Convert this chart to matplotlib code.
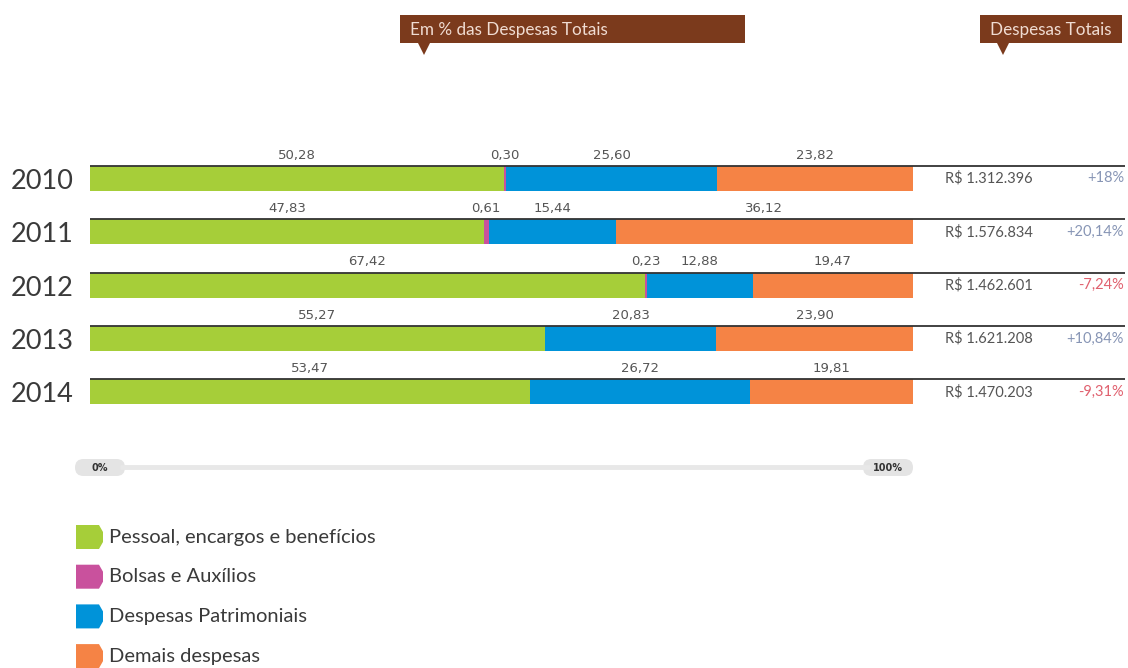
import numpy as np
import matplotlib.pyplot as plt
from matplotlib.patches import Polygon, FancyBboxPatch

plt.rcParams['font.family'] = ['Lato', 'DejaVu Sans']

years = ['2010', '2011', '2012', '2013', '2014']
pessoal = [50.28, 47.83, 67.42, 55.27, 53.47]
bolsas = [0.30, 0.61, 0.23, 0.0, 0.0]
patrimoniais = [25.60, 15.44, 12.88, 20.83, 26.72]
demais = [23.82, 36.12, 19.47, 23.90, 19.81]
totais = ['R$ 1.312.396', 'R$ 1.576.834', 'R$ 1.462.601', 'R$ 1.621.208', 'R$ 1.470.203']
variacao = ['+18%', '+20,14%', '-7,24%', '+10,84%', '-9,31%']

series = [pessoal, bolsas, patrimoniais, demais]
names = ['Pessoal, encargos e benefícios', 'Bolsas e Auxílios',
         'Despesas Patrimoniais', 'Demais despesas']
colors = ['#a6ce39', '#c9519d', '#0093d9', '#f58345']

W, H = 1128, 668
fig = plt.figure(figsize=(W / 100, H / 100), dpi=100)

# overlay in pixel coordinates for decorations
bg = fig.add_axes([0, 0, 1, 1])
bg.set_xlim(0, W)
bg.set_ylim(H, 0)
bg.axis('off')

brown = '#7b3a1c'
for x0, x1, tx, label in [(400, 745, 424, 'Em % das Despesas Totais'),
                          (980, 1122, 1003, 'Despesas Totais')]:
    bg.add_patch(plt.Rectangle((x0, 15), x1 - x0, 28, color=brown, lw=0))
    bg.add_patch(Polygon([(tx - 6, 43), (tx + 6, 43), (tx, 55)], color=brown, lw=0))
    bg.text(x0 + 10, 30, label, color='#f0dcd2', fontsize=12.3, va='center', ha='left')

# slider
bg.plot([120, 870], [467, 467], color='#e8e8e8', lw=3.5, solid_capstyle='butt')
for cx, lab in [(100, '0%'), (888, '100%')]:
    bg.add_patch(FancyBboxPatch((cx - 25, 459), 50, 17, boxstyle='round,pad=0,rounding_size=8.5',
                                color='#e4e4e4', lw=0))
    bg.text(cx, 468, lab, fontsize=7, ha='center', va='center', color='#333333',
            family='DejaVu Sans', fontweight='bold')

# legend
for i, (name, c) in enumerate(zip(names, colors)):
    yc = 537 + i * 39.7
    bg.add_patch(Polygon([(76, yc - 12), (99, yc - 12), (103, yc - 5), (103, yc + 5),
                          (99, yc + 12), (76, yc + 12)], color=c, lw=0))
    bg.text(109, yc, name, fontsize=14.5, va='center', ha='left', color='#3a3a3a')

# bars axes: 0% at x=90px, 100% at x=913px
row = 53.33
top_px = 178.5 - row
ax = fig.add_axes([90 / W, 1 - (top_px + 6 * row) / H, 823 / W, 6 * row / H])
ax.set_xlim(0, 100)
ax.set_ylim(5.0, -1.0)
ax.axis('off')

y = np.arange(len(years))
h = 0.47
left = np.zeros(len(years))
for vals, c in zip(series, colors):
    vals = np.array(vals)
    ax.barh(y, vals, left=left, height=h, color=c, lw=0)
    for i, v in enumerate(vals):
        if v > 0:
            ax.text(left[i] + v / 2, y[i] - h / 2 - 0.08, f'{v:.2f}'.replace('.', ','),
                    ha='center', va='bottom', fontsize=9.5, color='#555555',
                    family='DejaVu Sans')
    left += vals

xr = (1125 - 90) / 8.23
for i in range(len(years)):
    ax.hlines(y[i] - h / 2, 0, xr, color='#333333', lw=1.3, clip_on=False)
    ax.text(-2, y[i] + 0.2, years[i], ha='right', va='baseline', fontsize=19.5,
            color='#3a3a3a')
    ax.text((945 - 90) / 8.23, y[i], totais[i], ha='left', va='center', fontsize=10.5,
            color='#555555')
    ax.text((1124 - 90) / 8.23, y[i], variacao[i], ha='right', va='center', fontsize=10.5,
            color='#e0606e' if variacao[i].startswith('-') else '#8795b5')

fig.savefig('out.png', dpi=100)
